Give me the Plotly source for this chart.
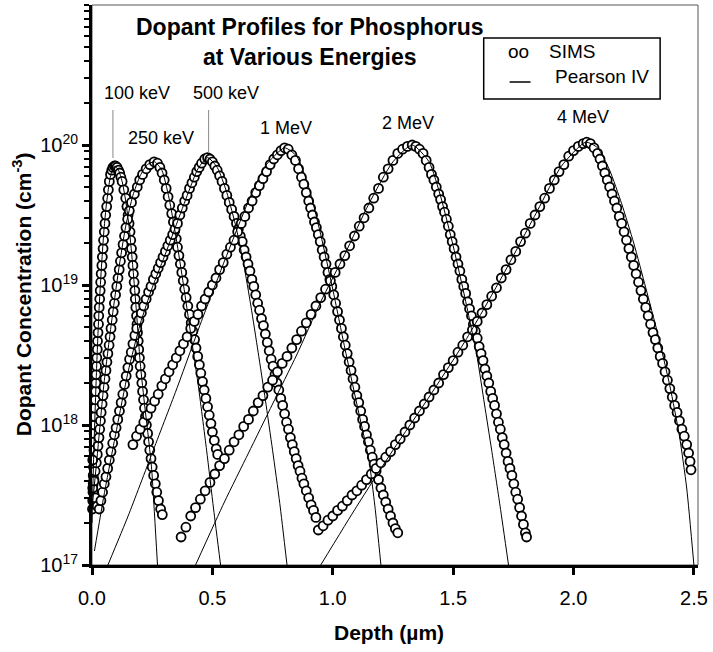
import plotly.graph_objects as go

# ---------------- data (depth in um, log10 of concentration in cm^-3) ----------------
energies = ["100 keV", "250 keV", "500 keV", "1 MeV", "2 MeV", "4 MeV"]
x_ticks = [0.0, 0.5, 1.0, 1.5, 2.0, 2.5]
x_tick_text = ["0.0", "0.5", "1.0", "1.5", "2.0", "2.5"]
y_ticks = [1e17, 1e18, 1e19, 1e20]
y_tick_text = ["10<sup>17</sup>", "10<sup>18</sup>", "10<sup>19</sup>", "10<sup>20</sup>"]

sims_100kev = [
    (0.002, 17.40), (0.003, 17.46), (0.004, 17.52), (0.005, 17.58), (0.005, 17.64), (0.006, 17.70),
    (0.007, 17.76), (0.008, 17.82), (0.009, 17.88), (0.009, 17.94), (0.010, 18.00), (0.011, 18.06),
    (0.012, 18.12), (0.014, 18.18), (0.015, 18.24), (0.016, 18.30), (0.017, 18.36), (0.019, 18.42),
    (0.020, 18.48), (0.022, 18.54), (0.023, 18.60), (0.025, 18.66), (0.027, 18.72), (0.028, 18.78),
    (0.030, 18.84), (0.032, 18.90), (0.034, 18.96), (0.036, 19.02), (0.038, 19.08), (0.041, 19.14),
    (0.043, 19.20), (0.046, 19.26), (0.048, 19.32), (0.051, 19.38), (0.054, 19.44), (0.057, 19.50),
    (0.061, 19.56), (0.065, 19.62), (0.068, 19.68), (0.072, 19.74), (0.077, 19.79), (0.082, 19.82),
    (0.087, 19.84), (0.093, 19.85), (0.098, 19.85), (0.104, 19.84), (0.110, 19.82), (0.115, 19.80),
    (0.120, 19.77), (0.125, 19.74), (0.132, 19.68), (0.140, 19.62), (0.145, 19.56), (0.150, 19.50),
    (0.154, 19.44), (0.158, 19.38), (0.161, 19.32), (0.164, 19.26), (0.167, 19.20), (0.170, 19.14),
    (0.172, 19.08), (0.175, 19.02), (0.178, 18.96), (0.180, 18.90), (0.182, 18.84), (0.185, 18.78),
    (0.187, 18.72), (0.189, 18.66), (0.192, 18.60), (0.194, 18.54), (0.197, 18.48), (0.200, 18.42),
    (0.203, 18.36), (0.207, 18.30), (0.210, 18.24), (0.214, 18.18), (0.218, 18.12), (0.222, 18.06),
    (0.226, 18.00), (0.231, 17.94), (0.235, 17.88), (0.240, 17.82), (0.245, 17.76), (0.250, 17.70),
    (0.256, 17.64), (0.263, 17.58), (0.269, 17.52), (0.276, 17.46), (0.285, 17.40), (0.292, 17.36),
]

sims_250kev = [
    (0.003, 17.55), (0.008, 17.61), (0.013, 17.67), (0.018, 17.73), (0.022, 17.79), (0.025, 17.85),
    (0.029, 17.91), (0.032, 17.97), (0.035, 18.03), (0.038, 18.09), (0.042, 18.15), (0.046, 18.21),
    (0.050, 18.27), (0.054, 18.33), (0.058, 18.39), (0.062, 18.45), (0.066, 18.51), (0.071, 18.57),
    (0.075, 18.63), (0.079, 18.69), (0.084, 18.75), (0.088, 18.81), (0.093, 18.87), (0.098, 18.93),
    (0.103, 18.99), (0.108, 19.05), (0.113, 19.11), (0.118, 19.17), (0.123, 19.23), (0.129, 19.29),
    (0.135, 19.35), (0.141, 19.41), (0.148, 19.47), (0.155, 19.53), (0.164, 19.59), (0.176, 19.65),
    (0.188, 19.70), (0.198, 19.75), (0.210, 19.79), (0.225, 19.83), (0.240, 19.86), (0.258, 19.88),
    (0.272, 19.87), (0.282, 19.84), (0.291, 19.80), (0.300, 19.75), (0.308, 19.69), (0.316, 19.63),
    (0.323, 19.57), (0.331, 19.51), (0.338, 19.45), (0.344, 19.39), (0.350, 19.33), (0.355, 19.27),
    (0.361, 19.21), (0.367, 19.15), (0.373, 19.09), (0.379, 19.03), (0.385, 18.97), (0.391, 18.91),
    (0.398, 18.85), (0.405, 18.79), (0.412, 18.73), (0.419, 18.67), (0.426, 18.61), (0.432, 18.55),
    (0.439, 18.49), (0.446, 18.43), (0.452, 18.37), (0.459, 18.31), (0.466, 18.25), (0.473, 18.19),
    (0.480, 18.13), (0.487, 18.07), (0.494, 18.01), (0.500, 17.95), (0.508, 17.89), (0.516, 17.83),
    (0.522, 17.79),
]

sims_500kev = [
    (0.003, 17.75), (0.008, 17.60), (0.014, 17.48), (0.022, 17.42), (0.030, 17.40), (0.037, 17.46),
    (0.044, 17.52), (0.051, 17.58), (0.058, 17.63), (0.065, 17.69), (0.072, 17.75), (0.079, 17.81),
    (0.086, 17.87), (0.093, 17.93), (0.100, 17.98), (0.107, 18.04), (0.114, 18.10), (0.121, 18.16),
    (0.128, 18.22), (0.135, 18.29), (0.142, 18.35), (0.149, 18.41), (0.156, 18.47), (0.163, 18.52),
    (0.170, 18.58), (0.178, 18.64), (0.186, 18.69), (0.195, 18.75), (0.205, 18.80), (0.215, 18.85),
    (0.225, 18.90), (0.235, 18.95), (0.245, 18.99), (0.255, 19.04), (0.265, 19.08), (0.275, 19.12),
    (0.285, 19.16), (0.295, 19.20), (0.305, 19.24), (0.315, 19.28), (0.325, 19.32), (0.335, 19.36),
    (0.345, 19.40), (0.355, 19.44), (0.365, 19.50), (0.375, 19.55), (0.385, 19.60), (0.395, 19.64),
    (0.405, 19.69), (0.415, 19.73), (0.425, 19.77), (0.435, 19.81), (0.445, 19.84), (0.455, 19.87),
    (0.468, 19.90), (0.480, 19.91), (0.490, 19.90), (0.500, 19.88), (0.510, 19.85), (0.520, 19.82),
    (0.530, 19.78), (0.540, 19.74), (0.550, 19.69), (0.560, 19.64), (0.570, 19.59), (0.580, 19.54),
    (0.590, 19.49), (0.600, 19.44), (0.608, 19.40), (0.616, 19.35), (0.624, 19.31), (0.632, 19.25),
    (0.640, 19.20), (0.648, 19.15), (0.656, 19.10), (0.664, 19.04), (0.672, 18.99), (0.680, 18.93),
    (0.688, 18.87), (0.696, 18.82), (0.704, 18.76), (0.712, 18.71), (0.720, 18.65), (0.728, 18.59),
    (0.736, 18.53), (0.744, 18.47), (0.752, 18.42), (0.760, 18.36), (0.768, 18.30), (0.776, 18.25),
    (0.784, 18.19), (0.792, 18.14), (0.800, 18.08), (0.808, 18.02), (0.816, 17.97), (0.824, 17.91),
    (0.832, 17.86), (0.840, 17.81), (0.848, 17.76), (0.856, 17.71), (0.864, 17.67), (0.872, 17.62),
    (0.880, 17.58), (0.890, 17.53), (0.900, 17.48), (0.910, 17.43), (0.920, 17.39), (0.930, 17.34),
]

sims_1mev = [
    (0.170, 17.86), (0.185, 17.92), (0.200, 17.97), (0.215, 18.02), (0.230, 18.07), (0.245, 18.12),
    (0.260, 18.17), (0.275, 18.22), (0.290, 18.28), (0.305, 18.33), (0.320, 18.38), (0.335, 18.43),
    (0.350, 18.48), (0.365, 18.53), (0.380, 18.58), (0.395, 18.63), (0.410, 18.69), (0.425, 18.74),
    (0.440, 18.79), (0.455, 18.85), (0.470, 18.90), (0.485, 18.95), (0.500, 19.00), (0.515, 19.05),
    (0.530, 19.11), (0.545, 19.16), (0.560, 19.22), (0.575, 19.27), (0.590, 19.32), (0.605, 19.38),
    (0.620, 19.44), (0.635, 19.49), (0.650, 19.55), (0.665, 19.60), (0.680, 19.66), (0.695, 19.71),
    (0.710, 19.76), (0.725, 19.81), (0.740, 19.86), (0.755, 19.90), (0.770, 19.93), (0.785, 19.96),
    (0.800, 19.98), (0.815, 19.97), (0.830, 19.93), (0.845, 19.89), (0.858, 19.83), (0.870, 19.77),
    (0.880, 19.72), (0.890, 19.66), (0.900, 19.60), (0.908, 19.55), (0.916, 19.50), (0.924, 19.45),
    (0.932, 19.41), (0.940, 19.36), (0.948, 19.31), (0.956, 19.25), (0.964, 19.20), (0.972, 19.15),
    (0.980, 19.09), (0.988, 19.04), (0.996, 18.99), (1.004, 18.93), (1.012, 18.87), (1.020, 18.81),
    (1.028, 18.75), (1.036, 18.69), (1.044, 18.63), (1.052, 18.57), (1.060, 18.51), (1.068, 18.45),
    (1.076, 18.39), (1.084, 18.33), (1.092, 18.27), (1.100, 18.21), (1.108, 18.16), (1.116, 18.10),
    (1.124, 18.04), (1.132, 17.99), (1.140, 17.93), (1.148, 17.88), (1.156, 17.82), (1.164, 17.77),
    (1.172, 17.72), (1.180, 17.67), (1.190, 17.61), (1.200, 17.55), (1.210, 17.50), (1.220, 17.45),
    (1.230, 17.40), (1.240, 17.35), (1.250, 17.30), (1.260, 17.26), (1.270, 17.23),
]

sims_2mev = [
    (0.370, 17.20), (0.390, 17.27), (0.410, 17.35), (0.430, 17.41), (0.450, 17.47), (0.470, 17.53),
    (0.490, 17.59), (0.510, 17.65), (0.530, 17.71), (0.550, 17.76), (0.570, 17.82), (0.590, 17.88),
    (0.610, 17.93), (0.630, 17.99), (0.650, 18.04), (0.670, 18.10), (0.690, 18.16), (0.710, 18.21),
    (0.730, 18.27), (0.750, 18.32), (0.770, 18.38), (0.790, 18.44), (0.810, 18.49), (0.830, 18.55),
    (0.850, 18.61), (0.870, 18.67), (0.890, 18.73), (0.910, 18.79), (0.930, 18.85), (0.950, 18.91),
    (0.970, 18.97), (0.990, 19.03), (1.010, 19.09), (1.030, 19.15), (1.050, 19.21), (1.070, 19.28),
    (1.090, 19.35), (1.110, 19.42), (1.130, 19.48), (1.150, 19.55), (1.170, 19.62), (1.190, 19.69),
    (1.210, 19.77), (1.230, 19.83), (1.250, 19.89), (1.270, 19.94), (1.290, 19.97), (1.310, 19.99),
    (1.330, 20.00), (1.345, 19.99), (1.360, 19.97), (1.375, 19.94), (1.388, 19.89), (1.400, 19.84),
    (1.410, 19.79), (1.420, 19.75), (1.430, 19.70), (1.440, 19.65), (1.448, 19.61), (1.456, 19.56),
    (1.464, 19.52), (1.472, 19.47), (1.480, 19.42), (1.488, 19.36), (1.496, 19.31), (1.504, 19.26),
    (1.512, 19.20), (1.520, 19.15), (1.528, 19.10), (1.536, 19.04), (1.544, 18.99), (1.552, 18.94),
    (1.560, 18.88), (1.568, 18.83), (1.576, 18.78), (1.584, 18.72), (1.592, 18.67), (1.600, 18.62),
    (1.608, 18.56), (1.616, 18.51), (1.624, 18.46), (1.632, 18.40), (1.640, 18.35), (1.648, 18.30),
    (1.656, 18.24), (1.664, 18.19), (1.672, 18.14), (1.680, 18.08), (1.688, 18.02), (1.696, 17.97),
    (1.704, 17.91), (1.712, 17.86), (1.720, 17.80), (1.728, 17.74), (1.736, 17.69), (1.744, 17.64),
    (1.752, 17.58), (1.760, 17.52), (1.768, 17.47), (1.776, 17.41), (1.784, 17.35), (1.792, 17.29),
    (1.800, 17.23), (1.805, 17.20),
]

sims_4mev = [
    (0.940, 17.25), (0.960, 17.28), (0.980, 17.32), (1.000, 17.35), (1.020, 17.39), (1.040, 17.42),
    (1.060, 17.46), (1.080, 17.50), (1.100, 17.53), (1.120, 17.57), (1.140, 17.61), (1.160, 17.65),
    (1.180, 17.69), (1.200, 17.73), (1.220, 17.77), (1.240, 17.81), (1.260, 17.86), (1.280, 17.90),
    (1.300, 17.95), (1.320, 18.00), (1.340, 18.05), (1.360, 18.10), (1.380, 18.15), (1.400, 18.20),
    (1.420, 18.25), (1.440, 18.30), (1.460, 18.36), (1.480, 18.41), (1.500, 18.46), (1.520, 18.52),
    (1.540, 18.57), (1.560, 18.63), (1.580, 18.68), (1.600, 18.74), (1.620, 18.80), (1.640, 18.86),
    (1.660, 18.92), (1.680, 18.98), (1.700, 19.05), (1.720, 19.11), (1.740, 19.18), (1.760, 19.24),
    (1.780, 19.31), (1.800, 19.37), (1.820, 19.44), (1.840, 19.50), (1.860, 19.56), (1.880, 19.62),
    (1.900, 19.69), (1.920, 19.75), (1.940, 19.81), (1.960, 19.86), (1.980, 19.92), (2.000, 19.96),
    (2.020, 19.99), (2.040, 20.01), (2.055, 20.02), (2.070, 20.01), (2.085, 19.98), (2.100, 19.94),
    (2.110, 19.90), (2.120, 19.85), (2.130, 19.80), (2.140, 19.75), (2.150, 19.70), (2.160, 19.65),
    (2.170, 19.60), (2.180, 19.55), (2.190, 19.49), (2.200, 19.44), (2.210, 19.38), (2.220, 19.32),
    (2.230, 19.26), (2.240, 19.20), (2.250, 19.14), (2.260, 19.08), (2.270, 19.02), (2.280, 18.96),
    (2.290, 18.90), (2.300, 18.84), (2.310, 18.78), (2.320, 18.72), (2.330, 18.66), (2.340, 18.61),
    (2.350, 18.55), (2.360, 18.49), (2.370, 18.44), (2.380, 18.38), (2.390, 18.32), (2.400, 18.26),
    (2.410, 18.20), (2.420, 18.14), (2.430, 18.09), (2.440, 18.03), (2.450, 17.97), (2.460, 17.92),
    (2.470, 17.86), (2.478, 17.80), (2.484, 17.74), (2.488, 17.68),
]

pearson_100kev = [
    (0.000, 17.30), (0.005, 17.65), (0.010, 17.95), (0.020, 18.45), (0.030, 18.85), (0.040, 19.15),
    (0.050, 19.40), (0.060, 19.58), (0.070, 19.71), (0.080, 19.80), (0.095, 19.85), (0.110, 19.82),
    (0.125, 19.74), (0.140, 19.60), (0.155, 19.40), (0.170, 19.12), (0.185, 18.80), (0.200, 18.45),
    (0.220, 18.12), (0.235, 17.90), (0.248, 17.68), (0.260, 17.35), (0.272, 17.00),
]
pearson_250kev = [
    (0.000, 17.40), (0.020, 17.75), (0.050, 18.30), (0.080, 18.72), (0.110, 19.10), (0.140, 19.42),
    (0.170, 19.64), (0.200, 19.78), (0.230, 19.86), (0.260, 19.88), (0.290, 19.82), (0.320, 19.62),
    (0.350, 19.33), (0.380, 19.00), (0.410, 18.65), (0.440, 18.30), (0.476, 17.82), (0.505, 17.40),
    (0.534, 17.00),
]
pearson_500kev = [
    (0.010, 17.10), (0.050, 17.50), (0.100, 17.95), (0.150, 18.38), (0.200, 18.72), (0.250, 18.98),
    (0.300, 19.20), (0.350, 19.43), (0.400, 19.66), (0.440, 19.83), (0.480, 19.91), (0.520, 19.84),
    (0.560, 19.66), (0.600, 19.40), (0.630, 19.15), (0.660, 18.85), (0.690, 18.52), (0.720, 18.18),
    (0.750, 17.82), (0.780, 17.44), (0.810, 17.00),
]
pearson_1mev = [
    (0.066, 17.00), (0.150, 17.35), (0.250, 17.80), (0.350, 18.25), (0.450, 18.72), (0.550, 19.17),
    (0.650, 19.60), (0.720, 19.85), (0.800, 19.98), (0.850, 19.92), (0.900, 19.70), (0.950, 19.36),
    (1.000, 18.97), (1.050, 18.55), (1.100, 18.15), (1.150, 17.75), (1.175, 17.42), (1.200, 17.00),
]
pearson_2mev = [
    (0.430, 17.00), (0.550, 17.45), (0.650, 17.80), (0.750, 18.15), (0.850, 18.50), (0.950, 18.88),
    (1.050, 19.22), (1.150, 19.58), (1.250, 19.88), (1.330, 20.00), (1.400, 19.88), (1.450, 19.62),
    (1.500, 19.28), (1.550, 18.90), (1.600, 18.48), (1.630, 18.15), (1.660, 17.82), (1.695, 17.42),
    (1.730, 17.00),
]
pearson_4mev = [
    (0.950, 17.00), (1.100, 17.42), (1.250, 17.82), (1.400, 18.20), (1.550, 18.60), (1.700, 19.05),
    (1.850, 19.53), (1.950, 19.85), (2.050, 20.02), (2.100, 19.98), (2.150, 19.82), (2.200, 19.58),
    (2.250, 19.30), (2.300, 18.98), (2.350, 18.65), (2.400, 18.28), (2.440, 17.92), (2.470, 17.55),
    (2.500, 17.00),
]

sims_sets = [sims_100kev, sims_250kev, sims_500kev, sims_1mev, sims_2mev, sims_4mev]
pearson_sets = [pearson_100kev, pearson_250kev, pearson_500kev, pearson_1mev, pearson_2mev, pearson_4mev]

# ---------------- figure ----------------
FONT = "Liberation Sans, Arial, Helvetica, sans-serif"
W, H = 713, 652
L, R, T, B = 92, 13, 5, 87
PW, PH = W - L - R, H - T - B


def px(x):
    return (x - L) / PW


def py(y):
    return (H - B - y) / PH


fig = go.Figure()

for name, pts in zip(energies, sims_sets):
    fig.add_trace(go.Scatter(
        x=[p[0] for p in pts], y=[10 ** p[1] for p in pts],
        mode="markers", name="SIMS " + name, showlegend=False, cliponaxis=False,
        marker=dict(symbol="circle", size=9, color="white",
                    line=dict(color="black", width=1.8)),
    ))

for name, pts in zip(energies, pearson_sets):
    fig.add_trace(go.Scatter(
        x=[p[0] for p in pts], y=[10 ** p[1] for p in pts],
        mode="lines", name="Pearson IV " + name, showlegend=False,
        line=dict(color="black", width=1, shape="spline", smoothing=0.6),
    ))

annotations = []
shapes = []


def note(text, x, y, size, xanchor="center", angle=0):
    annotations.append(dict(text=text, x=px(x), y=py(y), xref="paper", yref="paper",
                            xanchor=xanchor, yanchor="middle", textangle=angle,
                            showarrow=False, font=dict(family=FONT, size=size, color="black")))


# title
note("<b>Dopant Profiles for Phosphorus</b>", 311, 27, 23)
note("<b>at Various Energies</b>", 310, 57, 23)

# energy labels
label_pos = {"100 keV": (137, 93), "500 keV": (226, 93), "250 keV": (161, 138),
             "1 MeV": (287, 128), "2 MeV": (409, 123), "4 MeV": (585, 117)}
for name in energies:
    lx, ly = label_pos[name]
    note(name, lx, ly, 18)

# leader lines
for lx, y0, y1 in [(113, 110, 158), (209, 110, 153)]:
    shapes.append(dict(type="line", xref="paper", yref="paper",
                       x0=px(lx), x1=px(lx), y0=py(y0), y1=py(y1),
                       line=dict(color="#888888", width=1)))

# legend box
shapes.append(dict(type="rect", xref="paper", yref="paper",
                   x0=px(485), x1=px(662), y0=py(99), y1=py(38),
                   line=dict(color="black", width=1.5), fillcolor="white", layer="below"))
note("oo", 520, 51, 19)
note("SIMS", 548, 51, 19, xanchor="left")
shapes.append(dict(type="line", xref="paper", yref="paper",
                   x0=px(511), x1=px(532), y0=py(82), y1=py(82),
                   line=dict(color="black", width=1.5)))
note("Pearson IV", 555, 76, 19, xanchor="left")

# axis titles
note("<b>Dopant Concentration (cm<sup>-3</sup>)</b>", 22, 294, 21, angle=-90)
note("<b>Depth (µm)</b>", 390, 632, 21)

# thin frame (top/right)
shapes.append(dict(type="rect", xref="paper", yref="paper", x0=0, x1=1, y0=0, y1=1,
                   line=dict(color="#555555", width=1), layer="below"))

fig.update_layout(
    width=W, height=H,
    margin=dict(l=L, r=R, t=T, b=B, pad=0),
    paper_bgcolor="white", plot_bgcolor="white",
    font=dict(family=FONT, color="black"),
    showlegend=False,
    annotations=annotations,
    shapes=shapes,
    xaxis=dict(
        range=[0, 2.517], tickmode="array", tickvals=x_ticks, ticktext=x_tick_text,
        ticks="outside", ticklen=7, tickwidth=3, tickcolor="black",
        showline=True, linewidth=3, linecolor="black",
        showgrid=False, zeroline=False, tickfont=dict(family=FONT, size=20),
        ticklabelstandoff=6,
    ),
    yaxis=dict(
        type="log", range=[17, 21], tickmode="array", tickvals=y_ticks, ticktext=y_tick_text,
        ticks="outside", ticklen=7, tickwidth=3, tickcolor="black",
        showline=True, linewidth=3, linecolor="black",
        showgrid=False, zeroline=False, tickfont=dict(family=FONT, size=20),
        minor=dict(ticks="outside", ticklen=5, tickwidth=2, tickcolor="black",
                   dtick="D1", showgrid=False),
    ),
)

fig.write_html("out.html", config={"displayModeBar": False},
               post_script="document.body.style.margin='0px';")
